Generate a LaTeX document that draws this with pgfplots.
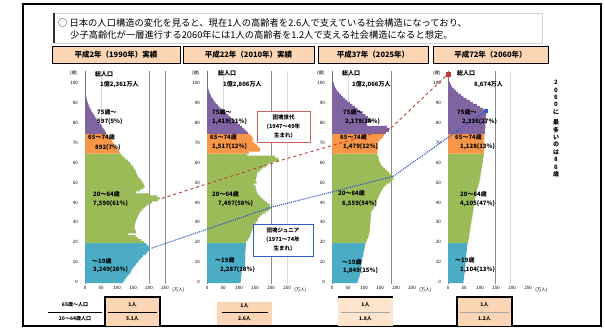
\documentclass[border=0pt]{standalone}
\usepackage{fontspec}
\setmainfont{Noto Sans CJK JP}
\usepackage{pgfplots}
\usepackage{pgfplotstable}
\pgfplotsset{compat=1.18}
\definecolor{cPur}{RGB}{128,100,162}
\definecolor{cOra}{RGB}{247,150,70}
\definecolor{cGre}{RGB}{155,187,89}
\definecolor{cBlu}{RGB}{75,172,198}
\definecolor{cPeach}{RGB}{252,213,180}
\definecolor{cPeachL}{RGB}{253,228,205}
\definecolor{cRed}{RGB}{192,60,50}
\definecolor{cDB}{RGB}{50,90,200}

% population by single year of age (10 thousand persons)
\pgfplotstableread[row sep=\\]{age pop\\0 120\\1 124\\2 128\\3 133\\4 139\\5 143\\6 146\\7 150\\8 155\\9 160\\10 165\\11 170\\12 176\\13 182\\14 190\\15 196\\16 202\\17 202\\18 198\\19 192\\20 185\\21 175\\22 165\\23 158\\24 135\\25 160\\26 158\\27 155\\28 155\\29 156\\30 158\\31 160\\32 163\\33 165\\34 168\\35 172\\36 178\\37 183\\38 190\\39 198\\40 210\\41 228\\42 234\\43 226\\44 200\\45 160\\46 172\\47 182\\48 186\\49 184\\50 180\\51 176\\52 172\\53 166\\54 162\\55 160\\56 158\\57 154\\58 150\\59 144\\60 140\\61 134\\62 126\\63 120\\64 114\\65 110\\66 106\\67 100\\68 96\\69 92\\70 89\\71 85\\72 80\\73 74\\74 69\\75 65\\76 62\\77 58\\78 54\\79 50\\80 45\\81 40\\82 36\\83 32\\84 28\\85 24\\86 20\\87 17\\88 14\\89 11\\90 9\\91 7\\92 5\\93 4\\94 3\\95 2\\96 1.5\\97 1\\98 0.7\\99 0.5\\100 0.3\\}\tA
\pgfplotstableread[row sep=\\]{age pop\\0 105\\1 106\\2 107\\3 107\\4 108\\5 108\\6 110\\7 117\\8 118\\9 119\\10 118\\11 120\\12 120\\13 119\\14 119\\15 120\\16 121\\17 121\\18 122\\19 122\\20 122\\21 127\\22 131\\23 134\\24 136\\25 138\\26 141\\27 146\\28 148\\29 150\\30 154\\31 158\\32 160\\33 165\\34 173\\35 183\\36 193\\37 199\\38 198\\39 196\\40 187\\41 180\\42 172\\43 166\\44 160\\45 156\\46 154\\47 152\\48 152\\49 146\\50 155\\51 152\\52 153\\53 155\\54 156\\55 158\\56 165\\57 172\\58 183\\59 189\\60 205\\61 225\\62 222\\63 212\\64 126\\65 131\\66 165\\67 165\\68 160\\69 155\\70 148\\71 142\\72 145\\73 140\\74 135\\75 128\\76 122\\77 116\\78 110\\79 103\\80 95\\81 88\\82 80\\83 73\\84 66\\85 59\\86 52\\87 45\\88 39\\89 33\\90 27\\91 22\\92 18\\93 14\\94 11\\95 8\\96 6\\97 4\\98 3\\99 2\\100 2\\}\tB
\pgfplotstableread[row sep=\\]{age pop\\0 80\\1 82\\2 84\\3 86\\4 87\\5 88\\6 89\\7 90\\8 91\\9 92\\10 93\\11 94\\12 95\\13 97\\14 98\\15 99\\16 101\\17 102\\18 103\\19 104\\20 107\\21 109\\22 112\\23 114\\24 116\\25 117\\26 118\\27 118\\28 119\\29 119\\30 120\\31 121\\32 121\\33 122\\34 122\\35 122\\36 126\\37 130\\38 133\\39 135\\40 137\\41 140\\42 144\\43 146\\44 149\\45 152\\46 156\\47 159\\48 164\\49 171\\50 180\\51 188\\52 192\\53 190\\54 186\\55 178\\56 172\\57 165\\58 159\\59 153\\60 150\\61 147\\62 146\\63 145\\64 141\\65 142\\66 142\\67 143\\68 143\\69 144\\70 144\\71 148\\72 154\\73 160\\74 163\\75 168\\76 178\\77 180\\78 172\\79 110\\80 108\\81 125\\82 120\\83 112\\84 104\\85 96\\86 88\\87 80\\88 72\\89 64\\90 56\\91 48\\92 41\\93 34\\94 28\\95 22\\96 17\\97 13\\98 9\\99 7\\100 5\\}\tC
\pgfplotstableread[row sep=\\]{age pop\\0 48\\1 49\\2 50\\3 50\\4 51\\5 52\\6 52\\7 53\\8 54\\9 54\\10 55\\11 56\\12 56\\13 57\\14 57\\15 58\\16 59\\17 59\\18 60\\19 61\\20 63\\21 64\\22 65\\23 66\\24 67\\25 68\\26 69\\27 70\\28 71\\29 72\\30 73\\31 74\\32 75\\33 76\\34 77\\35 78\\36 79\\37 80\\38 81\\39 82\\40 83\\41 84\\42 85\\43 86\\44 87\\45 88\\46 90\\47 92\\48 94\\49 96\\50 98\\51 99\\52 100\\53 101\\54 102\\55 103\\56 104\\57 105\\58 106\\59 107\\60 108\\61 109\\62 110\\63 111\\64 112\\65 112\\66 112\\67 113\\68 113\\69 113\\70 113\\71 113\\72 114\\73 114\\74 114\\75 115\\76 115\\77 116\\78 117\\79 117\\80 118\\81 118\\82 118\\83 118\\84 119\\85 120\\86 122\\87 110\\88 100\\89 90\\90 78\\91 68\\92 58\\93 48\\94 40\\95 32\\96 25\\97 18\\98 13\\99 9\\100 6\\}\tD

\pgfplotsset{
  pyr/.style={
    scale only axis, width=83.2pt, height=212.93pt,
    xmin=0, xmax=260, ymin=-1, ymax=106,
    anchor=south west, clip=false,
    axis x line*=bottom, axis y line*=left,
    x axis line style={draw=none},
    y axis line style={draw=black!55, line width=0.9pt},
    xtick={0,50,100,150,200,250}, ytick={0,10,...,100},
    major tick length=0pt,
    tick label style={font=\fontsize{4.5}{5}\selectfont, /pgf/number format/assume math mode=true},
    xticklabel style={inner sep=1pt, yshift=-1pt},
    yticklabel style={inner sep=1pt, xshift=-6pt},
  },
  bb/.style={xbar, bar shift=0pt, bar width=1.02, draw=none},
}
\newcommand{\groups}[1]{%
  \addplot[bb, fill=cBlu, restrict y to domain=0:19] table[x=pop,y=age]{#1};
  \addplot[bb, fill=cGre, restrict y to domain=20:64] table[x=pop,y=age]{#1};
  \addplot[bb, fill=cOra, restrict y to domain=65:74] table[x=pop,y=age]{#1};
  \addplot[bb, fill=cPur, restrict y to domain=75:110] table[x=pop,y=age]{#1};
  \node[font=\fontsize{4.5}{5}\selectfont, anchor=north west] at (axis cs:262,-1) {(万人)};
  \node[font=\fontsize{4.5}{5}\selectfont, anchor=east] at (axis cs:-12,105) {(歳)};
}

\begin{document}
\begin{tikzpicture}[x=1pt,y=1pt]
\useasboundingbox (0,0) rectangle (605,329);
\fill[white] (0,0) rectangle (605,329);

% ---------- panel 1 : 1990
\begin{axis}[pyr, at={(85pt,45pt)}]
\draw[gray!30] (axis cs:50,-1) -- (axis cs:50,106);
\draw[black!45, line width=0.9pt] (axis cs:200,-1) -- (axis cs:200,106);
\draw[black!45, line width=0.9pt] (axis cs:250,-1) -- (axis cs:250,106);
\groups{\tA}
\coordinate (r1) at (axis cs:240,42);
\coordinate (b1) at (axis cs:208,17);
\end{axis}

% ---------- panel 2 : 2010
\begin{axis}[pyr, at={(207pt,45pt)}]
\draw[gray!30] (axis cs:50,-1) -- (axis cs:50,106);
\draw[black!45, line width=0.9pt] (axis cs:200,-1) -- (axis cs:200,106);
\draw[gray!30, line width=0.6pt] (axis cs:250,-1) -- (axis cs:250,106);
\groups{\tB}
\coordinate (r2) at (axis cs:228,61);
\coordinate (b2) at (axis cs:200,37.5);
\end{axis}

% ---------- panel 3 : 2025
\begin{axis}[pyr, at={(332pt,45pt)}]
\draw[gray!30] (axis cs:50,-1) -- (axis cs:50,106);
\draw[black!45, line width=0.9pt] (axis cs:187,-1) -- (axis cs:187,106);
\groups{\tC}
\coordinate (r3) at (axis cs:182,77);
\coordinate (b3) at (axis cs:190,53);
\end{axis}

% ---------- panel 4 : 2060
\begin{axis}[pyr, at={(448pt,45pt)}]
\draw[black!45, line width=0.9pt] (axis cs:147,-1) -- (axis cs:147,106);
\draw[gray!30, line width=0.6pt] (axis cs:194,-1) -- (axis cs:194,106);
\groups{\tD}
\addplot[only marks, mark=square*, mark size=1.8pt, color=cRed] coordinates {(0,104.5)};
\addplot[only marks, mark=square*, mark size=1.5pt, color=cDB] coordinates {(118,86)};
\coordinate (r4) at (axis cs:0,104.5);
\coordinate (b4) at (axis cs:118,86);
\end{axis}

\draw[cRed, dashed, line width=0.9pt] (r1) -- (r2) -- (r3) -- (r4);
\draw[cDB, densely dotted, line width=1.1pt] (b1) -- (b2) -- (b3) -- (b4);

\begin{scope}[shift={(0,329)}, x=1pt, y=-1pt]
  % frame
  \draw[line width=1.2pt] (23,4) rectangle (601,326);
  \draw[line width=2.2pt] (23,4) -- (601,4);
  % top text box
  \draw[gray!35, fill=white] (54,13) rectangle (542,43);
  \draw[line width=1.6pt, black!80] (54,13) -- (54,43);
  \node[anchor=west, font=\fontsize{9.3}{10}\selectfont, inner sep=0pt] at (58,22.5) {○ 日本の人口構造の変化を見ると、現在1人の高齢者を2.6人で支えている社会構造になっており、};
  \node[anchor=west, font=\fontsize{9.3}{10}\selectfont, inner sep=0pt] at (70,35) {少子高齢化が一層進行する2060年には1人の高齢者を1.2人で支える社会構造になると想定。};
  % headers
  \foreach \xa/\xb/\t in {52/180/平成2年（1990年）実績, 183/314/平成22年（2010年）実績, 318/428/平成37年（2025年）, 433/548/平成72年（2060年）}{
    \fill[cPeach] (\xa,46) rectangle (\xb,63);
    \draw[line width=0.9pt] (\xa,46) rectangle (\xb,63);
    \node[font=\fontsize{7.5}{8}\selectfont\bfseries, inner sep=0pt] at ({(\xa+\xb)/2},54.5) {\t};
  }
  % panel labels
  \begin{scope}[every node/.style={anchor=west, inner sep=0pt, font=\fontsize{6}{7}\selectfont\bfseries}]
    \node at (95,74) {総人口}; \node at (100,85) {1億2,361万人};
    \node at (97,112) {75歳～}; \node at (97,122) {597(5\%)};
    \node at (88,137) {65～74歳}; \node at (95,148) {892(7\%)};
    \node at (93,194) {20～64歳}; \node at (93,204) {7,590(61\%)};
    \node at (92,261) {～19歳}; \node at (93,270) {3,249(26\%)};

    \node at (218,73) {総人口}; \node at (223,85) {1億2,806万人};
    \node at (212,112) {75歳～}; \node at (212,122) {1,419(11\%)};
    \node at (210,137) {65～74歳}; \node at (212,147) {1,517(12\%)};
    \node at (212,194) {20～64歳}; \node at (218,204) {7,497(58\%)};
    \node at (215,260) {～19歳}; \node at (220,270) {2,287(18\%)};

    \node at (342,73) {総人口}; \node at (352,85) {1億2,066万人};
    \node at (343,112) {75歳～}; \node at (345,122) {2,179(18\%)};
    \node at (340,137) {65～74歳}; \node at (343,147) {1,479(12\%)};
    \node at (338,193) {20～64歳}; \node at (342,204) {6,559(54\%)};
    \node at (342,262) {～19歳}; \node at (343,271) {1,849(15\%)};

    \node at (457,73) {総人口}; \node at (474,85) {8,674万人};
    \node at (457,112) {75歳～}; \node at (462,122) {2,336(27\%)};
    \node at (455,137) {65～74歳}; \node at (460,147) {1,128(13\%)};
    \node at (460,194) {20～64歳}; \node at (460,204) {4,105(47\%)};
    \node at (455,260) {～19歳}; \node at (460,270) {1,104(13\%)};
  \end{scope}
  % annotation boxes in panel 2
  \draw[cRed!80, fill=white, line width=0.6pt] (257,111) rectangle (310,142);
  \node[font=\fontsize{5.5}{9}\selectfont\bfseries, align=center, inner sep=0pt] at (283.5,126.5) {団塊世代\\(1947～49年\\生まれ)};
  \draw[cDB, fill=white, line width=0.6pt] (253,224) rectangle (313,256);
  \node[font=\fontsize{5.5}{9}\selectfont\bfseries, align=center, inner sep=0pt] at (283,240) {団塊ジュニア\\(1971～74年\\生まれ)};
  % vertical note
  \node[font=\fontsize{6}{7.4}\selectfont\bfseries, align=center, anchor=north, inner sep=0pt] at (556,80) {2\\0\\6\\0\\に\\[3pt]最\\多\\い\\の\\は\\8\\6\\歳};
  % bottom ratio boxes
  \begin{scope}[every node/.style={inner sep=0pt, font=\fontsize{5}{6}\selectfont\bfseries}]
    \node at (75,305) {65歳～人口};
    \draw[line width=0.6pt] (48,312) -- (102,312);
    \node at (75,319) {20～64歳人口};
    % 1990
    \fill[cPeach] (105,297) rectangle (160,326);
    \draw[line width=1.2pt] (105,326) -- (105,297) -- (160,297) -- (160,326);
    \draw[line width=0.8pt] (108,312) -- (157,312);
    \node at (132.5,305) {1人}; \node at (132.5,319) {5.1人};
    % 2010
    \fill[cPeach] (217,302) rectangle (272,325);
    \draw[line width=0.8pt] (222,312) -- (268,312);
    \draw[line width=2pt] (217,326) -- (272,326);
    \node at (244.5,306) {1人}; \node at (244.5,319) {2.6人};
    % 2025
    \fill[cPeachL] (338,297) rectangle (393,326);
    \draw[line width=1.2pt] (338,297) -- (393,297);
    \draw[black!35, line width=0.5pt] (341,312) -- (390,312);
    \node at (365.5,305) {1人}; \node at (365.5,319) {1.8人};
    % 2060
    \fill[cPeach] (457,297) rectangle (512,326);
    \draw[line width=1.2pt] (457,326) -- (457,297) -- (512,297) -- (512,326);
    \draw[black!35, line width=0.5pt] (460,312) -- (509,312);
    \node at (484.5,305) {1人}; \node at (484.5,319) {1.2人};
  \end{scope}
\end{scope}
\end{tikzpicture}
\end{document}
